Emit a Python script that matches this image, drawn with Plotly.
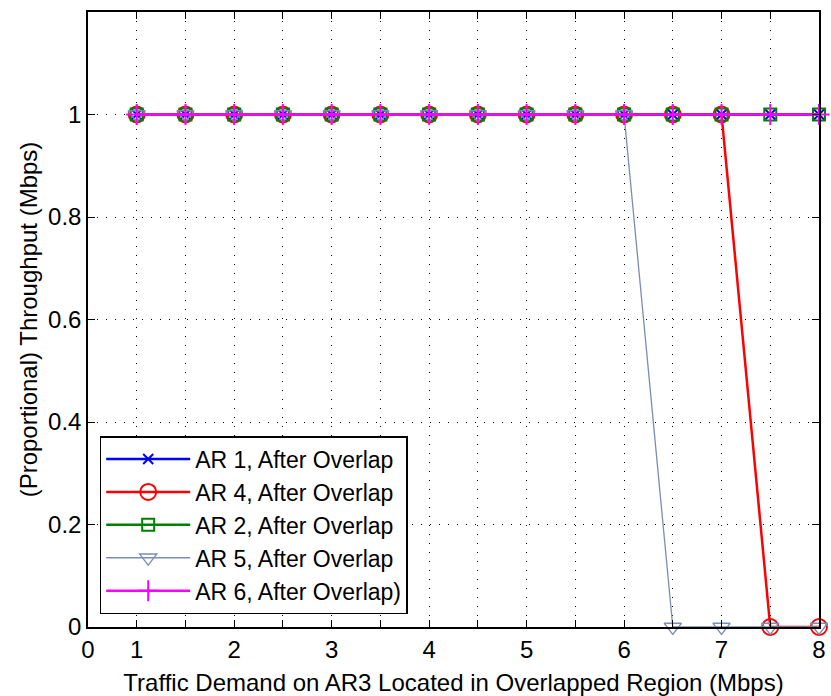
import plotly.graph_objects as go

# Traffic demand on AR3 (Mbps)
demand = [1, 1.5, 2, 2.5, 3, 3.5, 4, 4.5, 5, 5.5, 6, 6.5, 7, 7.5, 8]

# Proportional throughput per access router after overlap
ar1 = [1, 1, 1, 1, 1, 1, 1, 1, 1, 1, 1, 1, 1, 1, 1]
ar4 = [1, 1, 1, 1, 1, 1, 1, 1, 1, 1, 1, 1, 1, 0, 0]
ar2 = [1, 1, 1, 1, 1, 1, 1, 1, 1, 1, 1, 1, 1, 1, 1]
ar5 = [1, 1, 1, 1, 1, 1, 1, 1, 1, 1, 1, 0, 0, 0, 0]
ar6 = [1, 1, 1, 1, 1, 1, 1, 1, 1, 1, 1, 1, 1, 1, 1]

x_tickvals = [0.5, 1, 1.5, 2, 2.5, 3, 3.5, 4, 4.5, 5, 5.5, 6, 6.5, 7, 7.5, 8]
x_ticktext = ["0", "1", "", "2", "", "3", "", "4", "", "5", "", "6", "", "7", "", "8"]
y_tickvals = [0, 0.2, 0.4, 0.6, 0.8, 1]
y_ticktext = ["0", "0.2", "0.4", "0.6", "0.8", "1"]

series = [
    ("AR 1, After Overlap", ar1, "#0000ff", "x-thin-open", 2.5, 10),
    ("AR 4, After Overlap", ar4, "#ff0000", "circle-open", 2.5, 16),
    ("AR 2, After Overlap", ar2, "#008000", "square-open", 2.5, 12),
    ("AR 5, After Overlap", ar5, "#7a8db3", "triangle-down-open", 1.3, 15),
    ("AR 6, After Overlap)", ar6, "#ff00ff", "cross-thin-open", 2.5, 15),
]

fig = go.Figure()
for name, vals, color, symbol, lw, ms in series:
    fig.add_trace(go.Scatter(
        x=demand, y=vals, name=name, mode="lines+markers",
        line=dict(color=color, width=lw),
        marker=dict(symbol=symbol, size=ms, color=color,
                    line=dict(color=color, width=2 if lw >= 2 else 1.3)),
        cliponaxis=False,
    ))

family = "Liberation Sans, Arial, sans-serif"
axis_font = dict(family=family, size=24, color="black")

fig.update_layout(
    width=831, height=696,
    margin=dict(l=88, r=10, t=12, b=69),
    paper_bgcolor="white", plot_bgcolor="white",
    font=axis_font,
    showlegend=True,
    legend=dict(
        x=0.016, y=0.021, xanchor="left", yanchor="bottom",
        bgcolor="white", bordercolor="black", borderwidth=1.5,
        font=dict(family=family, size=23, color="black"),
        itemwidth=84, tracegroupgap=0,
    ),
    xaxis=dict(
        range=[0.5, 8], tickvals=x_tickvals, ticktext=x_ticktext,
        showline=True, linecolor="black", linewidth=1.5, mirror="ticks",
        ticks="inside", ticklen=7, tickcolor="black",
        showgrid=True, gridcolor="black", gridwidth=1, griddash="1px,8px",
        zeroline=False, tickfont=axis_font, automargin=False,
        title=dict(text="Traffic Demand on AR3 Located in Overlapped Region (Mbps)",
                   font=dict(family=family, size=24), standoff=13),
    ),
    yaxis=dict(
        range=[0, 1.2], tickvals=y_tickvals, ticktext=y_ticktext,
        showline=True, linecolor="black", linewidth=1.5, mirror="ticks",
        ticks="inside", ticklen=7, tickcolor="black",
        showgrid=True, gridcolor="black", gridwidth=1, griddash="1px,8px",
        zeroline=False, tickfont=axis_font,
        title=dict(text="(Proportional) Throughput (Mbps)",
                   font=dict(family=family, size=24), standoff=4),
    ),
)

fig.write_html("out.html")
